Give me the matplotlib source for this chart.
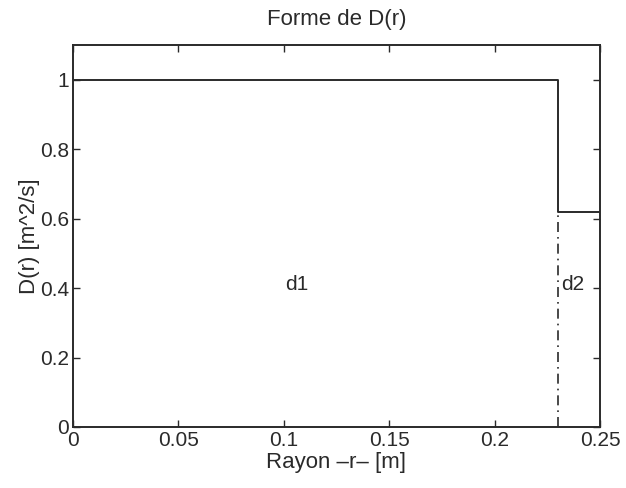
import numpy as np
import matplotlib.pyplot as plt

plt.rcParams['font.family'] = ['Liberation Sans', 'DejaVu Sans']

# Profil de D(r)
r_bords = [0, 0.23, 0.25]
d_vals = [1.0, 0.62]
r_interface = 0.23
labels = ['d1', 'd2']
label_x = [0.106, 0.237]
label_y = 0.41

ink = '#2a2a2a'
fs = 15

fig = plt.figure(figsize=(6.26, 4.88), dpi=100)
ax = fig.add_axes([0.1166, 0.125, 0.8418, 0.783])

# courbe en escalier
x = [r_bords[0], r_bords[1], r_bords[1], r_bords[2]]
y = [d_vals[0], d_vals[0], d_vals[1], d_vals[1]]
ax.plot(x, y, color=ink, lw=1.4)

# interface pointillee
ax.plot([r_interface, r_interface], [0, d_vals[1]], color=ink, lw=1.2,
        linestyle=(0, (6, 3, 1, 3)))

for lab, lx in zip(labels, label_x):
    ax.text(lx, label_y, lab, ha='center', va='center', fontsize=fs, color=ink)

ax.set_xlim(0, 0.25)
ax.set_ylim(0, 1.1)
ax.set_xticks([0, 0.05, 0.1, 0.15, 0.2, 0.25])
ax.set_xticklabels(['0', '0.05', '0.1', '0.15', '0.2', '0.25'])
ax.set_yticks([0, 0.2, 0.4, 0.6, 0.8, 1])
ax.set_yticklabels(['0', '0.2', '0.4', '0.6', '0.8', '1'])
ax.tick_params(direction='in', top=True, right=True, labelsize=fs, length=5,
               width=1, color=ink, labelcolor=ink, pad=3)
for s in ax.spines.values():
    s.set_linewidth(1.4)
    s.set_color(ink)

ax.set_title('Forme de D(r)', fontsize=fs + 1, color=ink, pad=14)
ax.set_xlabel('Rayon \u2013r\u2013 [m]', fontsize=fs + 1, color=ink, labelpad=1)
ax.set_ylabel('D(r) [m^2/s]', fontsize=fs + 1, color=ink, labelpad=0)

fig.savefig('out.png', dpi=100)
